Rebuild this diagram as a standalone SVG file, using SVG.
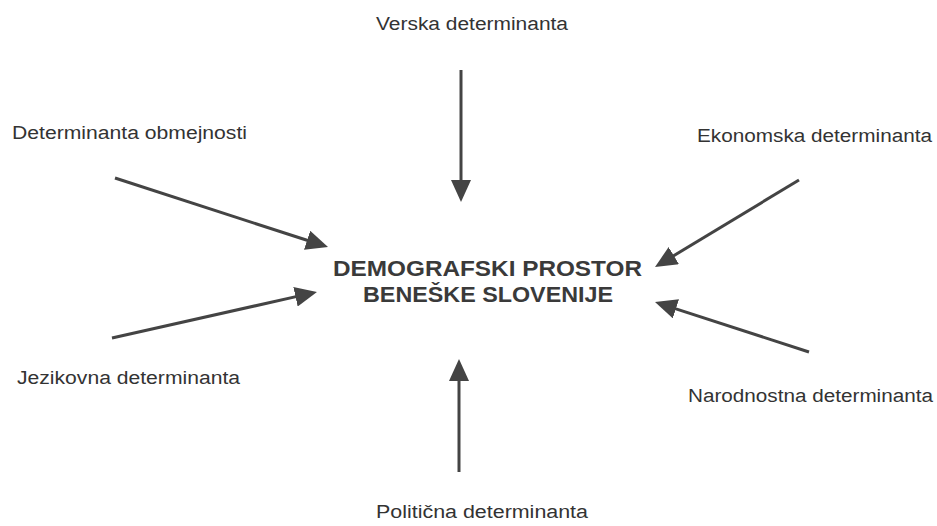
<svg xmlns="http://www.w3.org/2000/svg" width="937" height="526" viewBox="0 0 937 526">
  <style>
    .lbl { font-family: "Liberation Sans", Arial, sans-serif; font-size: 18px; fill: #333; }
    .ctr { font-family: "Liberation Sans", Arial, sans-serif; font-size: 22px; font-weight: bold; fill: #3a3a3a; }
    .arr { stroke: #444; stroke-width: 3; fill: none; marker-end: url(#ah); }
  </style>
  <defs>
    <marker id="ah" viewBox="0 0 22 20" markerWidth="22" markerHeight="20" refX="4" refY="10" orient="auto" markerUnits="userSpaceOnUse">
      <path d="M0,0 L22,10 L0,20 z" fill="#444"/>
    </marker>
  </defs>
  <rect width="937" height="526" fill="#fff"/>
  <g id="center">
    <text class="ctr" x="333" y="276" textLength="309" lengthAdjust="spacingAndGlyphs">DEMOGRAFSKI PROSTOR</text>
    <text class="ctr" x="363" y="302" textLength="250" lengthAdjust="spacingAndGlyphs">BENEŠKE SLOVENIJE</text>
  </g>
  <g id="verska"><text class="lbl" x="376" y="30" textLength="192" lengthAdjust="spacingAndGlyphs">Verska determinanta</text></g>
  <g id="obmejnosti"><text class="lbl" x="12" y="139" textLength="235" lengthAdjust="spacingAndGlyphs">Determinanta obmejnosti</text></g>
  <g id="jezikovna"><text class="lbl" x="17" y="384" textLength="223" lengthAdjust="spacingAndGlyphs">Jezikovna determinanta</text></g>
  <g id="ekonomska"><text class="lbl" x="697" y="142" textLength="235" lengthAdjust="spacingAndGlyphs">Ekonomska determinanta</text></g>
  <g id="narodnostna"><text class="lbl" x="688" y="402" textLength="245" lengthAdjust="spacingAndGlyphs">Narodnostna determinanta</text></g>
  <g id="politicna"><text class="lbl" x="376" y="518" textLength="212" lengthAdjust="spacingAndGlyphs">Politična determinanta</text></g>
  <g id="connectors">
    <path class="arr" d="M461,70 L461,184"/>
    <path class="arr" d="M459,472 L459,377"/>
    <path class="arr" d="M115,178 L310.9,241.5"/>
    <path class="arr" d="M112,338 L299.4,295.9"/>
    <path class="arr" d="M799,180 L670.4,257.7"/>
    <path class="arr" d="M809,352 L672.1,307.6"/>
  </g>
</svg>
